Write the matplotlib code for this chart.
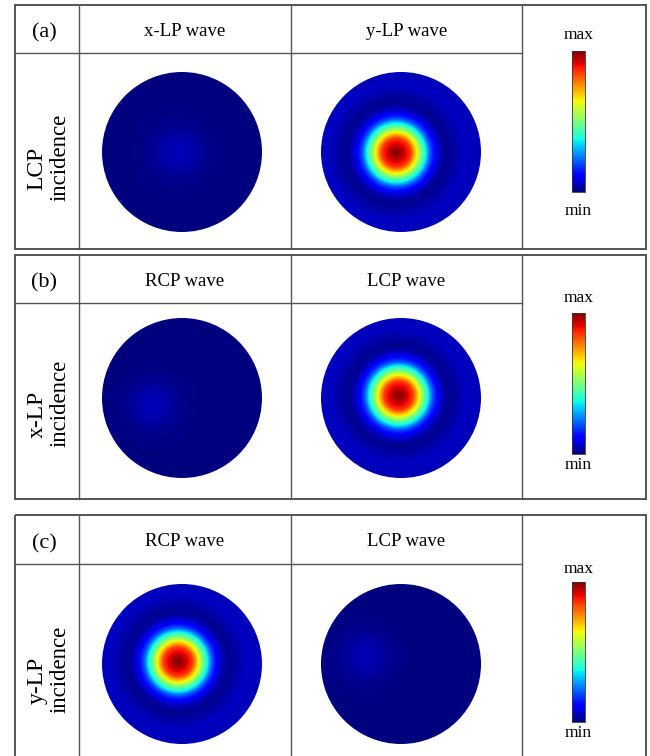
import numpy as np
import matplotlib.pyplot as plt
from matplotlib.patches import Circle, Rectangle

plt.rcParams['font.family'] = ['Liberation Serif', 'DejaVu Serif']

# ---- data ----
panel_labels = ['(a)', '(b)', '(c)']
incidence = ['LCP', 'x-LP', 'y-LP']
waves = [['x-LP wave', 'y-LP wave'],
         ['RCP wave', 'LCP wave'],
         ['RCP wave', 'LCP wave']]
converted_col = [1, 1, 0]          # column holding the converted (bright) beam

# radial profile of the converted beam: normalised intensity vs r/R
profile_r = [0.0, 0.08, 0.18, 0.25, 0.31, 0.37, 0.42, 0.49, 0.56, 0.63, 0.72, 0.85, 1.0]
profile_v = [1.0, 0.95, 0.85, 0.67, 0.50, 0.37, 0.22, 0.11, 0.045, 0.015, 0.03, 0.06, 0.05]
converted_dx = [-0.06, -0.03, -0.05]
converted_dy = [0.01, -0.03, -0.03]

# residual (unconverted) beam in the dark map
background = 0.003
residual_peak = [0.05, 0.05, 0.045]
residual_dx = [-0.05, -0.36, -0.45]
residual_dy = [0.0, 0.09, -0.1]
residual_w = [0.3, 0.28, 0.3]

# ---- layout (pixels) ----
W, H = 650, 756
left, right = 15, 646
col_x = [79, 291, 522]
panel_top = [5, 255, 515]
header_y = [53, 303, 564]
panel_bottom = [249, 499, 775]
circle_cx = [182, 401]
circle_cy = [152, 398, 664]
R = 80
cbar_x = (572, 585)
cbar_y = [(51, 192), (313, 454), (582, 722)]
max_y = [35, 298, 569]
min_y = [211, 465, 733]

fig = plt.figure(figsize=(W / 100, H / 100), dpi=100)
ax = fig.add_axes([0, 0, 1, 1])

lc = '#555555'
n = 301
g = np.linspace(-1, 1, n)
X, Y = np.meshgrid(g, g)

for p in range(3):
    t, hy, b = panel_top[p], header_y[p], panel_bottom[p]
    ax.add_patch(Rectangle((left, t), right - left, b - t, fill=False,
                           edgecolor=lc, lw=1.4, zorder=5))
    for cx in col_x:
        ax.plot([cx, cx], [t, b], color=lc, lw=1.0, zorder=5)
    ax.plot([left, col_x[2]], [hy, hy], color=lc, lw=1.0, zorder=5)

    ax.text((left + col_x[0]) / 2 - 3, (t + hy) / 2 + 4, panel_labels[p],
            ha='center', va='center', fontsize=16)
    for c in range(2):
        ax.text((col_x[c] + col_x[c + 1]) / 2, (t + hy) / 2 + 2, waves[p][c],
                ha='center', va='center', fontsize=13.5)

    row_mid = circle_cy[p]
    ax.text(37, row_mid + 16, incidence[p], rotation=90, ha='center', va='center',
            fontsize=17)
    ax.text(60, row_mid + 5, 'incidence', rotation=90, ha='center', va='center',
            fontsize=16.5)

    for c in range(2):
        cx, cy = circle_cx[c], circle_cy[p]
        if c == converted_col[p]:
            rr = np.hypot(X - converted_dx[p], Y - converted_dy[p])
            field = np.interp(rr, profile_r, profile_v)
        else:
            d2 = (X - residual_dx[p]) ** 2 + (Y - residual_dy[p]) ** 2
            field = background + residual_peak[p] * np.exp(-d2 / residual_w[p] ** 2)
        im = ax.imshow(field, cmap='jet', vmin=0, vmax=1,
                       extent=(cx - R, cx + R, cy + R, cy - R),
                       interpolation='bilinear', zorder=2)
        clip = Circle((cx, cy), R, transform=ax.transData)
        im.set_clip_path(clip)

    # colour bar
    y0, y1 = cbar_y[p]
    grad = np.linspace(1, 0, 256).reshape(-1, 1)
    ax.imshow(grad, cmap='jet', aspect='auto',
              extent=(cbar_x[0], cbar_x[1], y1, y0), zorder=2)
    ax.add_patch(Rectangle((cbar_x[0], y0), cbar_x[1] - cbar_x[0], y1 - y0,
                           fill=False, edgecolor='#333333', lw=0.6, zorder=3))
    mid = (cbar_x[0] + cbar_x[1]) / 2
    ax.text(mid, max_y[p], 'max', ha='center', va='center', fontsize=12.5)
    ax.text(mid, min_y[p], 'min', ha='center', va='center', fontsize=12.5)

ax.set_xlim(0, W)
ax.set_ylim(H, 0)
ax.set_aspect('auto')
ax.axis('off')

fig.savefig('out.png', dpi=100, facecolor='white')
